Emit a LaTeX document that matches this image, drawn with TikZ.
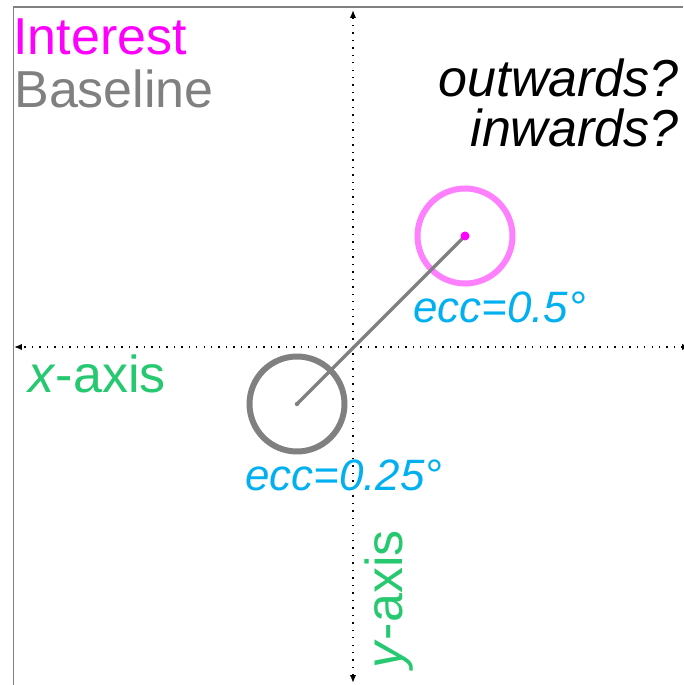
\documentclass[tikz,border=0pt]{standalone}
\usepackage{fontspec}
\setmainfont{Liberation Sans}
\usepackage{xcolor}
\usetikzlibrary{positioning, arrows.meta}

\definecolor{axisgreen}{RGB}{38,200,112}
\definecolor{eccblue}{RGB}{0,176,240}
\definecolor{ringpink}{RGB}{255,128,255}
\definecolor{intmagenta}{RGB}{255,0,255}
\definecolor{basegray}{RGB}{128,128,128}

\begin{document}
\begin{tikzpicture}[
    x=0.02cm, y=-0.02cm,
    frame/.style={draw=basegray, line width=1pt},
    axis/.style={{Latex[length=4.5pt,width=3.6pt]}-{Latex[length=4.5pt,width=3.6pt]}, line width=0.8pt, dash pattern=on 0.8pt off 3.45pt},
    ring/.style={circle, draw=#1, line width=3.4pt, minimum size=1.9cm, inner sep=0pt},
    big/.style={font=\fontsize{29.6}{34}\selectfont, inner sep=0pt},
    ecc/.style={font=\fontsize{25}{29}\selectfont\itshape, text=eccblue, inner sep=0pt}
]
    \useasboundingbox (0,0) rectangle (683,685);
    \draw[frame] (13.5,685) |- (683,7);

    % axes
    \coordinate (ytop) at (353,10);
    \coordinate (ybottom) at (353,683);
    \coordinate (xleft) at (14,347);
    \coordinate (xright) at (690,347);
    \draw[axis] (ybottom) -- (ytop);
    \draw[axis] (xright) -- (xleft);

    % fixation rings
    \node[ring=basegray] (baseline) at (297,404) {};
    \node[ring=ringpink] (interest) at (465,236) {};
    \draw[basegray, line width=1.9pt] (baseline.center) -- (interest.center);
    \fill[basegray] (baseline.center) circle (0.045cm);
    \fill[intmagenta] (interest.center) circle (0.09cm);

    % labels
    \node[big, text=intmagenta, anchor=base west] (interesttxt) at (13,55) {Interest};
    \node[big, text=basegray, anchor=base west] (baselinetxt) at (14,108) {Baseline};
    \node[big, font=\fontsize{29.6}{34}\selectfont\itshape, anchor=base east] (outwards) at (679,97) {outwards?};
    \node[big, font=\fontsize{29.6}{34}\selectfont\itshape, anchor=base east] (inwards) at (679,147) {inwards?};
    \node[ecc, anchor=base west] (eccint) at (413,322) {ecc=0.5°};
    \node[ecc, anchor=base west] (eccbase) at (245,490) {ecc=0.25°};
    \node[big, text=axisgreen, anchor=base west] (xlabel) at (28,392) {\textit{x}-axis};
    \node[big, text=axisgreen, rotate=90, anchor=base west] (ylabel) at (402,669) {\textit{y}-axis};
\end{tikzpicture}
\end{document}
